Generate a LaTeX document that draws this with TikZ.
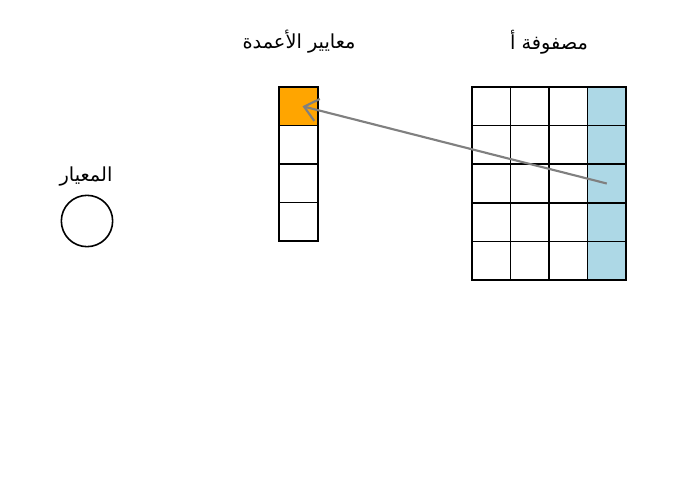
\documentclass[tikz,border=0pt]{standalone}
\usepackage{fontspec}
\usetikzlibrary{arrows.meta}
\TeXXeTstate=1
\newfontfamily\arabicfont[Script=Arabic]{DejaVu Sans}
\definecolor{cellblue}{HTML}{ADD8E6}
\definecolor{cellorange}{HTML}{FFA500}
\tikzset{
    cell/.style={draw,line width=1.2pt,minimum size=28.9pt,inner sep=0pt},
    label/.style={font=\arabicfont\fontsize{14.5}{17}\selectfont},
}

\begin{document}
\begin{tikzpicture}[x=0.75pt,y=-0.75pt]
        \useasboundingbox (0,0) rectangle (674,482);
        % matrix A
        \foreach \r in {1,...,5}
            \foreach \c in {1,2,3}
                \node[cell] (a\r\c) at ({472+38.5*(\c-0.5)},{87+38.6*(\r-0.5)}) {};
        \foreach \r in {1,...,5}
            \node[cell,fill=cellblue] (a\r4) at ({472+38.5*3.5},{87+38.6*(\r-0.5)}) {};
        % column norms
        \node[cell,fill=cellorange] (n1) at (298.5,106.25) {};
        \foreach \r in {2,3,4}
            \node[cell] (n\r) at (298.5,{87+38.5*(\r-0.5)}) {};
        % norm
        \node[draw,circle,line width=1.2pt,minimum size=38.5pt,inner sep=0pt] (norm) at (87,221) {};

        \node[label] (tA) at (549,42) {\beginR مصفوفة أ\endR};
        \node[label] (tN) at (299,42) {\beginR معايير الأعمدة\endR};
        \node[label] (tR) at (86,177) {\beginR المعيار\endR};

        \draw[gray,line width=1.6pt,-{Straight Barb[length=10pt,width=17pt,line width=1.6pt]}] (a34.center) -- ([xshift=3pt]n1.center);
    \end{tikzpicture}
\end{document}
